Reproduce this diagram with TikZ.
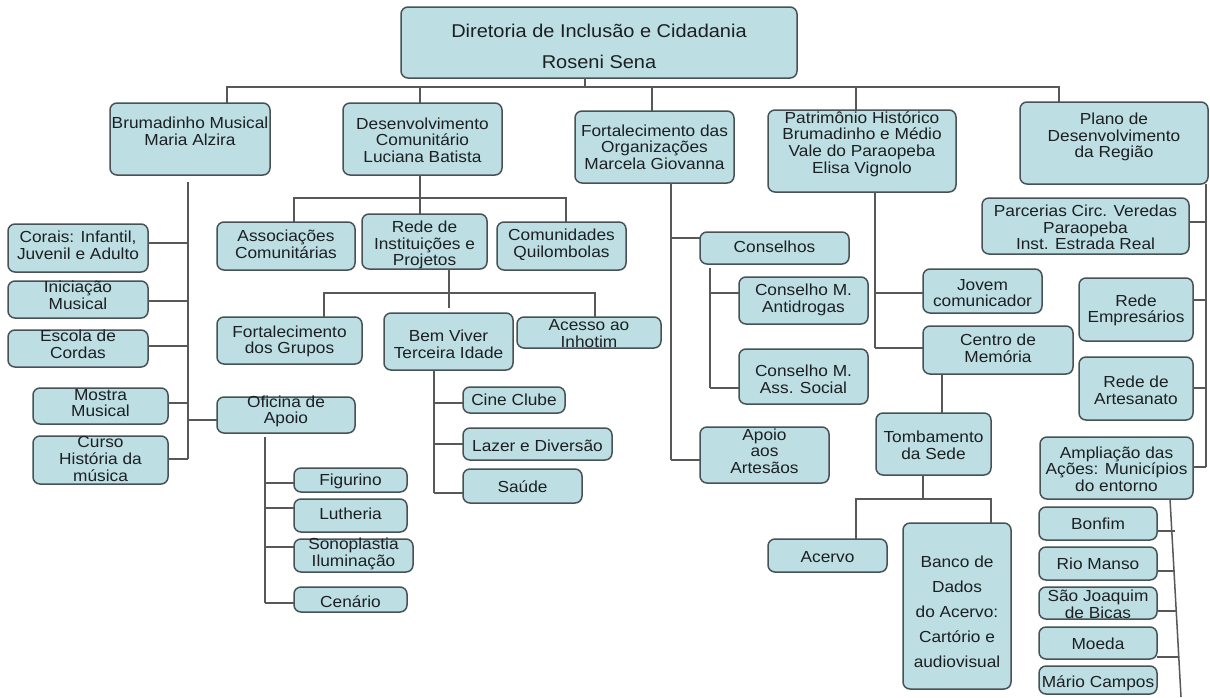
\documentclass[tikz,border=0pt]{standalone}
\usepackage{fontspec}
\setmainfont[FakeStretch=1.08]{Liberation Sans}
\definecolor{boxfill}{RGB}{189,222,227}
\definecolor{boxline}{RGB}{72,82,86}
\definecolor{linecol}{RGB}{88,88,88}
\definecolor{txtcol}{RGB}{28,32,34}
% box: [text options] name, left, top, right, bottom, text centre y, text
\newcommand\obox[8][]{%
  \node[obx, minimum width={#5-#3}, minimum height={#6-#4}] (#2) at ({(#3+#5)/2},{(#4+#6)/2}) {};
  \node[otxt,#1] (#2-t) at ({(#3+#5)/2},#7) {#8};
}
\begin{document}
\begin{tikzpicture}[x=1pt,y=-1pt,
  obx/.style={draw=boxline, fill=boxfill, rounded corners=7pt, line width=1.5pt, inner sep=0pt, outer sep=0pt},
  otxt/.style={align=center, inner sep=0pt, font=\fontsize{16}{16.7}\selectfont, text=txtcol},
  conn/.style={draw=linecol, line width=1.5pt}]
\fill[white] (0,0) rectangle (1210,697);
\useasboundingbox (0,0) rectangle (1210,697);

% ---------- boxes ----------
\obox[font=\fontsize{18.5}{31}\selectfont]{root}{401}{7}{797}{78}{46.5}{Diretoria de Inclusão e Cidadania\\ Roseni Sena}

\obox{bm}{110}{103}{270}{175}{131.5}{Brumadinho Musical\\Maria Alzira}
\obox{dc}{343}{103}{502}{175}{140}{Desenvolvimento\\Comunitário\\Luciana Batista}
\obox{fo}{575}{111}{734}{183}{147}{Fortalecimento das\\Organizações\\Marcela Giovanna}
\obox{ph}{768}{110}{956}{192}{144}{Patrimônio Histórico\\Brumadinho e Médio\\Vale do Paraopeba\\Elisa Vignolo}
\obox{pd}{1020}{102}{1208}{184}{137}{Plano de\\Desenvolvimento\\da Região}

\obox{corais}{8}{224}{148}{272}{245.5}{Corais: Infantil,\\Juvenil e Adulto}
\obox{inic}{8}{281}{148}{318}{295}{Iniciação\\Musical}
\obox{escola}{8}{330}{148}{367}{344}{Escola de\\Cordas}
\obox{mostra}{33}{388}{168}{424}{403}{Mostra\\Musical}
\obox{curso}{33}{436}{168}{484}{459}{Curso\\História da\\música}
\obox{ofi}{217}{397}{355}{433}{411.5}{Oficina de\\Apoio}

\obox{fig}{294}{468}{407}{492}{481}{Figurino}
\obox{luth}{294}{499}{407}{532}{514}{Lutheria}
\obox{sono}{294}{539}{413}{572}{554}{Sonoplastia\\Iluminação}
\obox{cen}{294}{587}{407}{612}{602}{Cenário}

\obox{asc}{217}{222}{355}{270}{244.5}{Associações\\Comunitárias}
\obox{rede}{362}{214}{487}{269}{245}{Rede de\\Instituições e\\Projetos}
\obox{com}{497}{222}{626}{270}{244.5}{Comunidades\\Quilombolas}

\obox{fg}{217}{317}{362}{364}{341.5}{Fortalecimento\\dos Grupos}
\obox{bv}{384}{313}{513}{370}{344}{Bem Viver\\Terceira Idade}
\obox{ac}{517}{317}{661}{348}{333.5}{Acesso ao\\Inhotim}

\obox{cine}{463}{387}{565}{413}{400}{Cine Clube}
\obox{lazer}{463}{428}{612}{460}{446}{Lazer e Diversão}
\obox{saude}{463}{469}{582}{503}{487}{Saúde}

\obox{cons}{700}{232}{849}{264}{247}{Conselhos}
\obox{anti}{739}{277}{868}{324}{300}{Conselho M.\\Antidrogas}
\obox{ass}{739}{349}{868}{404}{379.5}{Conselho M.\\Ass. Social}
\obox{apoio}{700}{427}{829}{483}{451}{Apoio\\aos\\Artesãos}

\obox{jov}{923}{269}{1042}{313}{293}{Jovem\\comunicador}
\obox{cm}{923}{326}{1073}{374}{348}{Centro de\\Memória}
\obox{tomb}{876}{413}{991}{475}{445}{Tombamento\\da Sede}
\obox{acervo}{768}{539}{887}{572}{557}{Acervo}
\obox[font=\fontsize{16}{25}\selectfont]{banco}{903}{523}{1011}{689}{612}{Banco de\\Dados\\do Acervo:\\Cartório e\\audiovisual}

\obox{parc}{982}{198}{1189}{254}{227.5}{Parcerias Circ. Veredas\\Paraopeba\\Inst. Estrada Real}
\obox{remp}{1079}{278}{1193}{341}{310.5}{Rede\\Empresários}
\obox{rart}{1079}{357}{1193}{420}{390}{Rede de\\Artesanato}
\obox{ampl}{1040}{437}{1193}{499}{469}{Ampliação das\\Ações: Municípios\\do entorno}

\obox{bonfim}{1039}{507}{1157}{540}{524}{Bonfim}
\obox{rio}{1039}{547}{1157}{580}{564}{Rio Manso}
\obox{sj}{1039}{587}{1157}{619}{604.5}{São Joaquim\\de Bicas}
\obox{moeda}{1039}{627}{1157}{659}{644}{Moeda}
\obox{mario}{1039}{666}{1157}{694}{683}{Mário Campos}

% ---------- junction points ----------
\coordinate (rJ) at (585,87);
\coordinate (bL) at (227,87);
\coordinate (bR) at (1059,87);
\coordinate (dcJ) at (420,87);
\coordinate (foJ) at (652,87);
\coordinate (phJ) at (856,87);

\coordinate (bmT) at (188,182);
\coordinate (bm1) at (188,243);
\coordinate (bm2) at (188,301);
\coordinate (bm3) at (188,346);
\coordinate (bm4) at (188,403);
\coordinate (bm5) at (188,420);
\coordinate (bm6) at (188,459);

\coordinate (ofT) at (265,437);
\coordinate (of1) at (265,483);
\coordinate (of2) at (265,508);
\coordinate (of3) at (265,547);
\coordinate (of4) at (265,603);

\coordinate (dcB) at (420,198);
\coordinate (dcL) at (294,198);
\coordinate (dcR) at (566,198);

\coordinate (rdB) at (449,293);
\coordinate (rdE) at (449,308);
\coordinate (rdL) at (324,293);
\coordinate (rdR) at (595,293);

\coordinate (bv1) at (434,403);
\coordinate (bv2) at (434,444);
\coordinate (bv3) at (434,493);

\coordinate (fo1) at (671,238);
\coordinate (fo2) at (671,460);
\coordinate (cs0) at (710,268);
\coordinate (cs1) at (710,293);
\coordinate (cs2) at (710,388);

\coordinate (ph1) at (875,293);
\coordinate (ph2) at (875,348);
\coordinate (ctX) at (942,400);
\coordinate (tbB) at (923,499);
\coordinate (tbL) at (856,499);
\coordinate (tbR) at (991,499);

\coordinate (pd1) at (1206,222);
\coordinate (pd2) at (1206,300);
\coordinate (pd3) at (1206,388);
\coordinate (pd4) at (1206,467);

\coordinate (amT) at (1170,499);
\coordinate (amB) at (1181,697);
\coordinate (am1) at (1175,531);
\coordinate (am2) at (1175,571);
\coordinate (am3) at (1176,611);
\coordinate (am4) at (1179,657);

% ---------- connectors ----------
\draw[conn] (rJ |- root.south) -- (rJ);
\draw[conn] (bL |- bm.north) -- (bL) -- (bR) -- (bR |- pd.north);
\draw[conn] (dcJ) -- (dcJ |- dc.north);
\draw[conn] (foJ) -- (foJ |- fo.north);
\draw[conn] (phJ) -- (phJ |- ph.north);

% Brumadinho Musical
\draw[conn] (bmT) -- (bm6);
\draw[conn] (bm1) -- (bm1 -| corais.east);
\draw[conn] (bm2) -- (bm2 -| inic.east);
\draw[conn] (bm3) -- (bm3 -| escola.east);
\draw[conn] (bm4) -- (bm4 -| mostra.east);
\draw[conn] (bm6) -- (bm6 -| curso.east);
\draw[conn] (bm5) -- (bm5 -| ofi.west);

% Oficina de Apoio
\draw[conn] (ofT) -- (of4);
\draw[conn] (of1) -- (of1 -| fig.west);
\draw[conn] (of2) -- (of2 -| luth.west);
\draw[conn] (of3) -- (of3 -| sono.west);
\draw[conn] (of4) -- (of4 -| cen.west);

% Desenvolvimento Comunitario
\draw[conn] (dc.south -| dcB) -- (dcB |- rede.north);
\draw[conn] (dcL |- asc.north) -- (dcL) -- (dcR) -- (dcR |- com.north);

% Rede de Instituicoes e Projetos
\draw[conn] (rede.south -| rdB) -- (rdE);
\draw[conn] (rdL |- fg.north) -- (rdL) -- (rdR) -- (rdR |- ac.north);

% Bem Viver
\draw[conn] (bv.south -| bv1) -- (bv3);
\draw[conn] (bv1) -- (bv1 -| cine.west);
\draw[conn] (bv2) -- (bv2 -| lazer.west);
\draw[conn] (bv3) -- (bv3 -| saude.west);

% Fortalecimento das Organizacoes
\draw[conn] (fo.south -| fo1) -- (fo2);
\draw[conn] (fo1) -- (fo1 -| cons.west);
\draw[conn] (fo2) -- (fo2 -| apoio.west);
\draw[conn] (cs0) -- (cs2);
\draw[conn] (cs1) -- (cs1 -| anti.west);
\draw[conn] (cs2) -- (cs2 -| ass.west);

% Patrimonio Historico
\draw[conn] (ph.south -| ph1) -- (ph2);
\draw[conn] (ph1) -- (ph1 -| jov.west);
\draw[conn] (ph2) -- (ph2 -| cm.west);
\draw[conn] (cm.south -| ctX) -- (tomb.north -| ctX);
\draw[conn] (tomb.south -| tbB) -- (tbB);
\draw[conn] (tbL |- acervo.north) -- (tbL) -- (tbR) -- (tbR |- banco.north);

% Plano de Desenvolvimento
\draw[conn] (pd.south -| pd1) -- (pd4);
\draw[conn] (pd1) -- (pd1 -| parc.east);
\draw[conn] (pd2) -- (pd2 -| remp.east);
\draw[conn] (pd3) -- (pd3 -| rart.east);
\draw[conn] (pd4) -- (pd4 -| ampl.east);

% Municipios do entorno
\draw[conn] (amT) -- (amB);
\draw[conn] (am1 -| bonfim.east) -- (am1);
\draw[conn] (am2 -| rio.east) -- (am2);
\draw[conn] (am3 -| sj.east) -- (am3);
\draw[conn] (am4 -| moeda.east) -- (am4);
\end{tikzpicture}
\end{document}
